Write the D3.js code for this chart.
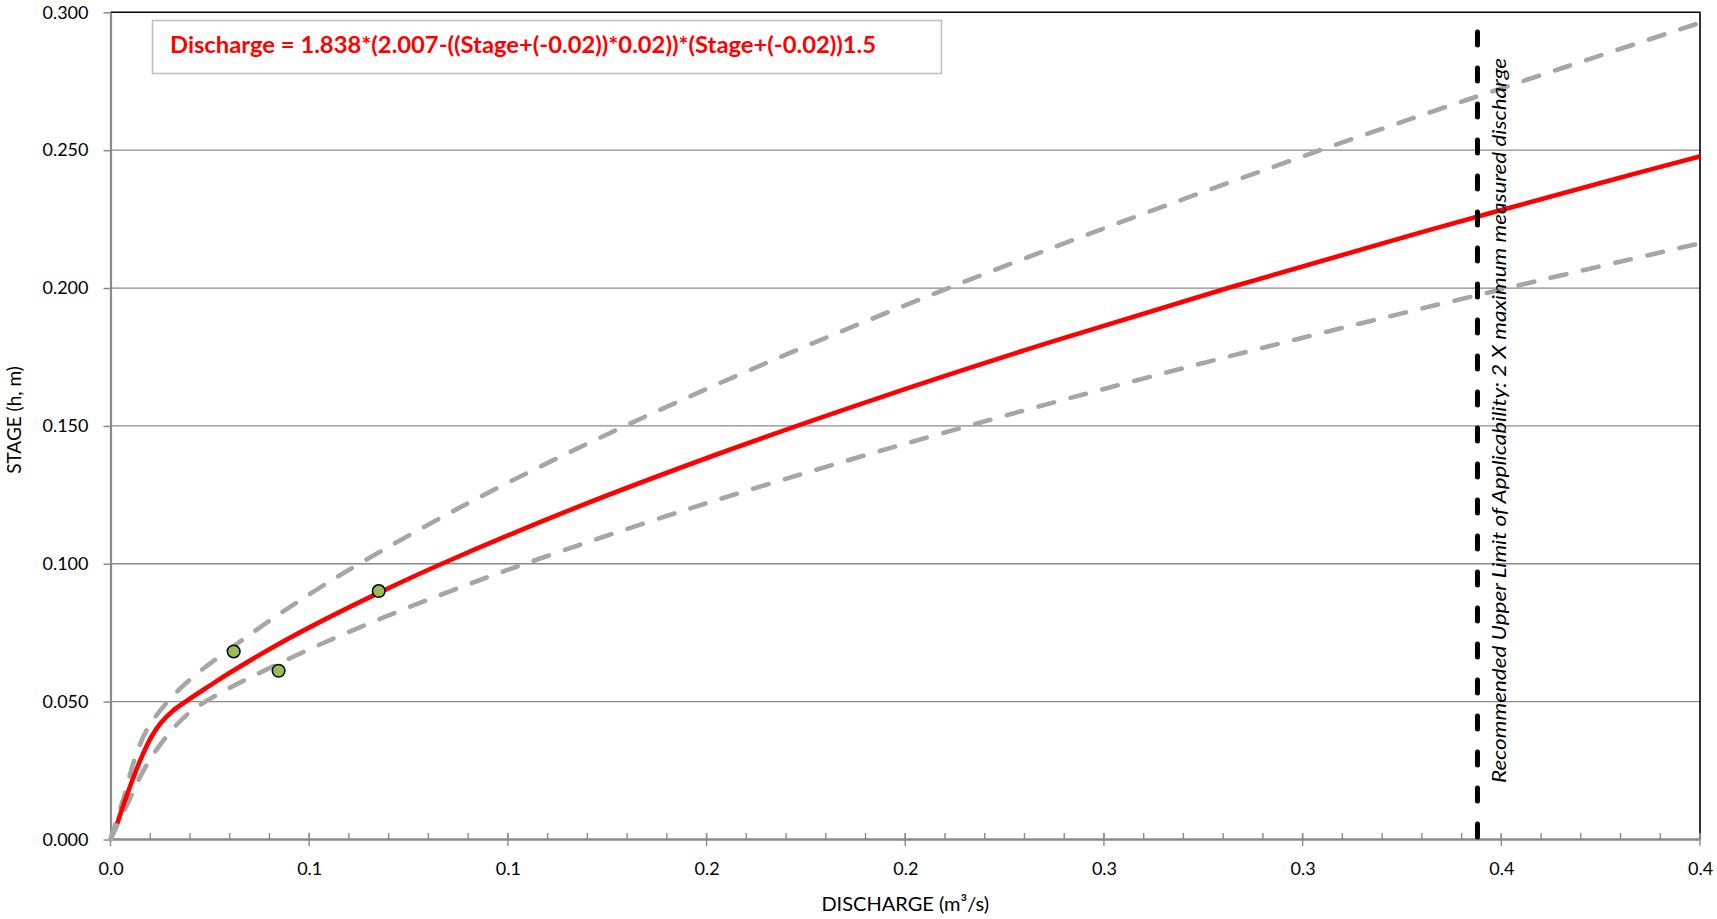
<!DOCTYPE html>
<html>
<head>
<meta charset="utf-8">
<script src="https://cdn.jsdelivr.net/npm/d3@7"></script>
<style>
  html, body { margin: 0; padding: 0; background: #fff; }
  svg { display: block; font-family: Lato, "Open Sans", sans-serif; }
</style>
</head>
<body>
<svg id="chart" width="1717" height="919"></svg>
<script>
// Rating curve: stage (m) vs discharge (m³/s)
const ratingStage     = [0.0058, 0.0135, 0.0215, 0.0298, 0.0370, 0.0425, 0.0468, 0.0503, 0.0560, 0.060, 0.070, 0.080, 0.090, 0.100, 0.120, 0.140, 0.160, 0.180, 0.200, 0.220, 0.240, 0.2477];
const ratingDischarge = [0.0017, 0.0035, 0.0055, 0.0078, 0.0102, 0.0128, 0.0158, 0.0192, 0.0252, 0.0295, 0.0412, 0.0542, 0.0683, 0.0834, 0.1165, 0.1532, 0.1930, 0.2357, 0.2812, 0.3293, 0.3798, 0.3999];

// Upper band (-25% discharge)
const upperStage     = [0, 0.0155, 0.0288, 0.0399, 0.0505, 0.0592, 0.070, 0.080, 0.090, 0.100, 0.120, 0.140, 0.160, 0.180, 0.200, 0.220, 0.240, 0.260, 0.280, 0.2962];
const upperDischarge = [0, 0.0034, 0.0060, 0.0092, 0.0147, 0.0210, 0.0309, 0.0407, 0.0512, 0.0626, 0.0874, 0.1149, 0.1447, 0.1768, 0.2109, 0.2470, 0.2849, 0.3245, 0.3658, 0.4000];

// Lower band (+25% discharge)
const lowerStage     = [0, 0.0149, 0.0263, 0.0372, 0.0459, 0.0539, 0.060, 0.070, 0.080, 0.090, 0.100, 0.120, 0.140, 0.160, 0.180, 0.200, 0.2162];
const lowerDischarge = [0, 0.0049, 0.0088, 0.0140, 0.0198, 0.0286, 0.0369, 0.0516, 0.0678, 0.0854, 0.1043, 0.1457, 0.1915, 0.2412, 0.2946, 0.3515, 0.4000];

// Field measurements
const measuredDischarge = [0.0310, 0.0423, 0.0675];
const measuredStage     = [0.0682, 0.0612, 0.0901];

// Upper limit of applicability
const limitDischarge = 0.344;
const limitStageTop = 0.2943;

// Axis ticks
const xTickValues = [0, 0.05, 0.10, 0.15, 0.20, 0.25, 0.30, 0.35, 0.40];
const xTickLabels = ["0.0", "0.1", "0.1", "0.2", "0.2", "0.3", "0.3", "0.4", "0.4"];
const xMinorTicks = d3.range(0, 41).map(i => i / 100);
const yTickValues = [0, 0.05, 0.10, 0.15, 0.20, 0.25, 0.30];
const yTickLabels = ["0.000", "0.050", "0.100", "0.150", "0.200", "0.250", "0.300"];

const equationText = "Discharge = 1.838*(2.007-((Stage+(-0.02))*0.02))*(Stage+(-0.02))1.5";
const limitText = "Recommended Upper Limit of Applicability: 2 X maximum measured discharge";
const xTitle = "DISCHARGE (m³/s)";
const yTitle = "STAGE (h, m)";

const plot = { left: 110.5, right: 1700, top: 12.3, bottom: 839.5 };
const x = d3.scaleLinear().domain([0, 0.4]).range([plot.left, plot.right]);
const y = d3.scaleLinear().domain([0, 0.3]).range([plot.bottom, plot.top]);

const svg = d3.select("#chart");
const gridColor = "#8a8a8a";

// Horizontal gridlines
svg.append("g")
  .selectAll("line")
  .data(yTickValues.filter(v => v > 0 && v < 0.3))
  .join("line")
  .attr("x1", plot.left).attr("x2", plot.right)
  .attr("y1", d => y(d)).attr("y2", d => y(d))
  .attr("stroke", gridColor).attr("stroke-width", 1.3);

// Plot frame: top and right in black
svg.append("path")
  .attr("d", `M${plot.left},${plot.top}H${plot.right}V${plot.bottom}`)
  .attr("fill", "none").attr("stroke", "#000").attr("stroke-width", 1.6);

// Y axis
const yAxis = d3.axisLeft(y)
  .tickValues(yTickValues)
  .tickFormat((d, i) => yTickLabels[i])
  .tickSizeInner(7).tickSizeOuter(0).tickPadding(15);
const gy = svg.append("g").attr("transform", `translate(${plot.left},0)`).call(yAxis);
gy.select(".domain").attr("stroke", gridColor).attr("stroke-width", 2.2);
gy.selectAll(".tick line").attr("stroke", gridColor).attr("stroke-width", 1.5);
gy.selectAll(".tick text").attr("font-size", 18).attr("fill", "#000")
  .attr("font-family", "Lato, sans-serif");

// X axis: labels from the axis generator, ticks drawn from the same scale
const xAxis = d3.axisBottom(x)
  .tickValues(xTickValues)
  .tickFormat((d, i) => xTickLabels[i])
  .tickSize(0).tickPadding(23);
const gx = svg.append("g").attr("transform", `translate(0,${plot.bottom})`).call(xAxis);
gx.select(".domain").remove();
gx.selectAll(".tick text").attr("font-size", 18).attr("fill", "#000")
  .attr("font-family", "Lato, sans-serif");

svg.append("g").selectAll("line")
  .data(xMinorTicks)
  .join("line")
  .attr("x1", d => x(d)).attr("x2", d => x(d))
  .attr("y1", plot.bottom - 6.5).attr("y2", plot.bottom)
  .attr("stroke", gridColor).attr("stroke-width", 1.4);
svg.append("g").selectAll("line")
  .data(xTickValues)
  .join("line")
  .attr("x1", d => x(d)).attr("x2", d => x(d))
  .attr("y1", plot.bottom - 6.5).attr("y2", plot.bottom + 6.5)
  .attr("stroke", gridColor).attr("stroke-width", 1.4);
svg.append("line")
  .attr("x1", plot.left - 1).attr("x2", plot.right)
  .attr("y1", plot.bottom).attr("y2", plot.bottom)
  .attr("stroke", gridColor).attr("stroke-width", 2.6);

// Axis titles
svg.append("text")
  .attr("x", (plot.left + plot.right) / 2).attr("y", 911)
  .attr("text-anchor", "middle").attr("font-size", 20).attr("fill", "#000")
  .text(xTitle);
svg.append("text")
  .attr("transform", "translate(21,420) rotate(-90)")
  .attr("text-anchor", "middle").attr("font-size", 19).attr("fill", "#000")
  .text(yTitle);

// Curves
const line = d3.line().x(d => x(d[0])).y(d => y(d[1])).curve(d3.curveCatmullRom.alpha(0.5));
const zipPts = (xs, ys) => xs.map((v, i) => [v, ys[i]]);

const curves = svg.append("g");
curves.append("path")
  .datum(zipPts(upperDischarge, upperStage))
  .attr("d", line).attr("fill", "none")
  .attr("stroke", "#a6a6a6").attr("stroke-width", 4.6)
  .attr("stroke-dasharray", "16,17").attr("stroke-linecap", "round");
curves.append("path")
  .datum(zipPts(lowerDischarge, lowerStage))
  .attr("d", line).attr("fill", "none")
  .attr("stroke", "#a6a6a6").attr("stroke-width", 4.6)
  .attr("stroke-dasharray", "16,17").attr("stroke-linecap", "round");
curves.append("path")
  .datum(zipPts(ratingDischarge, ratingStage))
  .attr("d", line).attr("fill", "none")
  .attr("stroke", "#ff0000").attr("stroke-width", 4.6)
  .attr("stroke-linejoin", "round");

// Limit of applicability
svg.append("line")
  .attr("x1", x(limitDischarge)).attr("x2", x(limitDischarge))
  .attr("y1", y(0) - 2.5).attr("y2", y(limitStageTop))
  .attr("stroke", "#000").attr("stroke-width", 5)
  .attr("stroke-dasharray", "13,23").attr("stroke-linecap", "round");
svg.append("text")
  .attr("transform", `translate(${x(limitDischarge) + 28.5},783) rotate(-90)`)
  .attr("font-size", 20).attr("font-style", "italic").attr("fill", "#000")
  .attr("textLength", 725).attr("lengthAdjust", "spacingAndGlyphs")
  .text(limitText);

// Measurements
svg.append("g").selectAll("circle")
  .data(zipPts(measuredDischarge, measuredStage))
  .join("circle")
  .attr("cx", d => x(d[0])).attr("cy", d => y(d[1])).attr("r", 6.3)
  .attr("fill", "#9bbb59").attr("stroke", "#000").attr("stroke-width", 1.5);

// Equation box
svg.append("rect")
  .attr("x", 152.5).attr("y", 20.5).attr("width", 789).attr("height", 53)
  .attr("fill", "#fff").attr("stroke", "#bfbfbf").attr("stroke-width", 1.6);
svg.append("text")
  .attr("x", 170).attr("y", 53)
  .attr("font-size", 22).attr("font-weight", "bold").attr("fill", "#ff0000")
  .attr("textLength", 706).attr("lengthAdjust", "spacingAndGlyphs")
  .text(equationText);
</script>
</body>
</html>
